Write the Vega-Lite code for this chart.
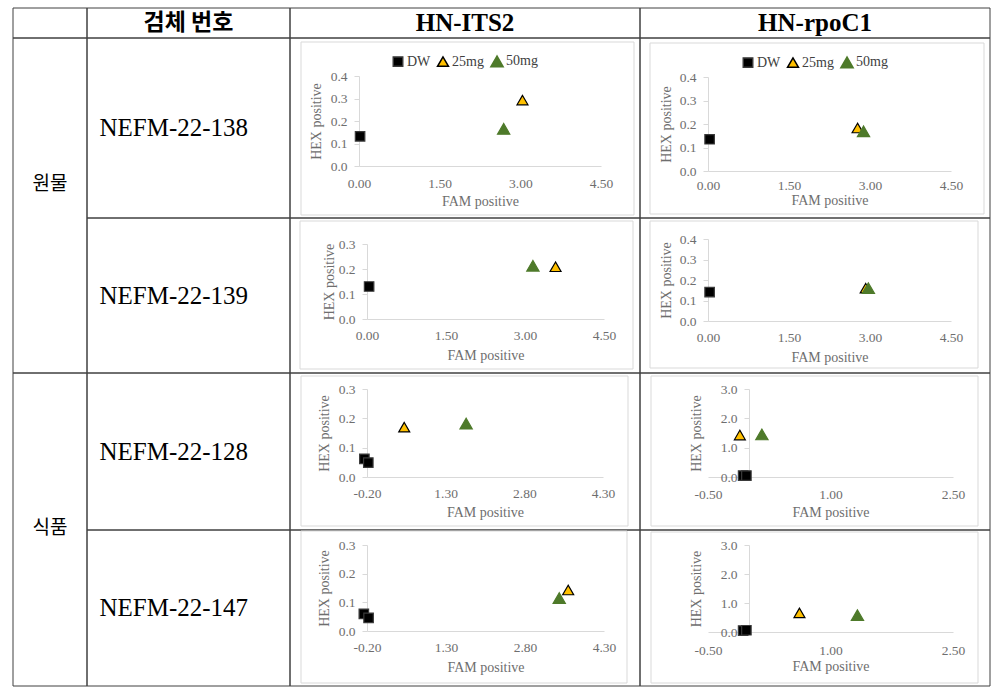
{
  "$schema": "https://vega.github.io/schema/vega-lite/v6.json",
  "padding": {"left": 12, "top": 7, "right": 0, "bottom": 0},
  "background": "white",
  "columns": 4,
  "spacing": 0,
  "align": "each",
  "bounds": "flush",
  "resolve": {"scale": {"shape": "independent", "fill": "independent", "stroke": "independent", "size": "independent"}},
  "datasets": {
    "c1": [{"series": "DW", "fam": 0.02, "hex": 0.132}, {"series": "25mg", "fam": 3.04, "hex": 0.293}, {"series": "50mg", "fam": 2.69, "hex": 0.165}],
    "c2": [{"series": "DW", "fam": 0.03, "hex": 0.135}, {"series": "25mg", "fam": 2.77, "hex": 0.183}, {"series": "50mg", "fam": 2.88, "hex": 0.169}],
    "c3": [{"series": "DW", "fam": 0.04, "hex": 0.13}, {"series": "25mg", "fam": 3.58, "hex": 0.209}, {"series": "50mg", "fam": 3.15, "hex": 0.213}],
    "c4": [{"series": "DW", "fam": 0.03, "hex": 0.141}, {"series": "25mg", "fam": 2.92, "hex": 0.16}, {"series": "50mg", "fam": 2.97, "hex": 0.16}],
    "c5": [{"series": "DW", "fam": -0.25, "hex": 0.062}, {"series": "DW", "fam": -0.175, "hex": 0.049}, {"series": "25mg", "fam": 0.51, "hex": 0.17}, {"series": "50mg", "fam": 1.69, "hex": 0.182}],
    "c6": [{"series": "DW", "fam": -0.07, "hex": 0.05}, {"series": "DW", "fam": -0.03, "hex": 0.05}, {"series": "25mg", "fam": -0.11, "hex": 1.43}, {"series": "50mg", "fam": 0.16, "hex": 1.45}],
    "c7": [{"series": "DW", "fam": -0.26, "hex": 0.06}, {"series": "DW", "fam": -0.17, "hex": 0.046}, {"series": "25mg", "fam": 3.62, "hex": 0.143}, {"series": "50mg", "fam": 3.45, "hex": 0.115}],
    "c8": [{"series": "DW", "fam": -0.07, "hex": 0.05}, {"series": "DW", "fam": -0.03, "hex": 0.06}, {"series": "25mg", "fam": 0.62, "hex": 0.66}, {"series": "50mg", "fam": 1.33, "hex": 0.58}]
  },
  "concat": [
    {"width": 74, "height": 30, "data": {"values": [{"t": ""}]}, "layer": [
      {"mark": {"type": "rect", "fill": "transparent", "stroke": "#404040", "strokeWidth": 1}, "encoding": {}},
      {"mark": {"type": "text"}, "encoding": {"text": {"field": "t"}}}]},
    {"width": 203, "height": 30, "data": {"values": [{"t": "검체 번호"}]}, "layer": [
      {"mark": {"type": "rect", "fill": "transparent", "stroke": "#404040", "strokeWidth": 1}, "encoding": {}},
      {"mark": {"type": "text", "font": "Noto Sans CJK KR", "fontSize": 23, "fontWeight": "bold", "color": "#000"}, "encoding": {"text": {"field": "t"}}}]},
    {"width": 350, "height": 30, "data": {"values": [{"t": "HN-ITS2"}]}, "layer": [
      {"mark": {"type": "rect", "fill": "transparent", "stroke": "#404040", "strokeWidth": 1}, "encoding": {}},
      {"mark": {"type": "text", "font": "Liberation Serif", "fontSize": 25, "fontWeight": "bold", "color": "#000"}, "encoding": {"text": {"field": "t"}}}]},
    {"width": 350, "height": 30, "data": {"values": [{"t": "HN-rpoC1"}]}, "layer": [
      {"mark": {"type": "rect", "fill": "transparent", "stroke": "#404040", "strokeWidth": 1}, "encoding": {}},
      {"mark": {"type": "text", "font": "Liberation Serif", "fontSize": 25, "fontWeight": "bold", "color": "#000"}, "encoding": {"text": {"field": "t"}}}]},

    {"width": 74, "height": 180, "data": {"values": [{"t": "원물"}]}, "layer": [
      {"mark": {"type": "rect", "fill": "transparent", "stroke": "#404040", "strokeWidth": 1},
       "encoding": {"y": {"datum": 0, "type": "quantitative", "scale": {"domain": [0, 1], "range": [335, 0]}, "axis": null}, "y2": {"datum": 1}}},
      {"mark": {"type": "text", "font": "Noto Sans CJK KR", "fontSize": 19, "dy": 56, "color": "#000"}, "encoding": {"text": {"field": "t"}}}]},
    {"width": 203, "height": 180, "data": {"values": [{"t": "NEFM-22-138"}]}, "layer": [
      {"mark": {"type": "rect", "fill": "transparent", "stroke": "#404040", "strokeWidth": 1}, "encoding": {}},
      {"mark": {"type": "text", "font": "Liberation Serif", "fontSize": 25, "align": "left", "dx": -89, "color": "#000"}, "encoding": {"text": {"field": "t"}}}]},
    {
      "width": 350, "height": 180,
      "resolve": {"scale": {"x": "independent", "y": "independent"}},
      "layer": [
        {"data": {"values": [{}]}, "mark": {"type": "rect", "fill": "transparent", "stroke": "#404040", "strokeWidth": 1}, "encoding": {}},
        {"data": {"values": [{}]}, "mark": {"type": "rect", "fill": "transparent", "stroke": "#d9d9d9", "strokeWidth": 1},
         "encoding": {"x": {"datum": 0, "type": "quantitative", "scale": {"domain": [0, 1], "range": [11, 344]}, "axis": null}, "x2": {"datum": 1},
                      "y": {"datum": 0, "type": "quantitative", "scale": {"domain": [0, 1], "range": [177, 4]}, "axis": null}, "y2": {"datum": 1}}},
        {"data": {"name": "c1"}, "mark": {"type": "point", "filled": true, "opacity": 1, "strokeWidth": 1.2},
         "encoding": {
           "x": {"field": "fam", "type": "quantitative", "scale": {"domain": [0, 4.5], "range": [69, 311], "nice": false, "zero": false},
                 "axis": {"offset": -52, "values": [0, 1.5, 3, 4.5], "format": ".2f", "title": "FAM positive", "labelPadding": 10, "titlePadding": 5}},
           "y": {"field": "hex", "type": "quantitative", "scale": {"domain": [0, 0.4], "range": [128, 38], "nice": false, "zero": false},
                 "axis": {"offset": -69, "values": [0, 0.1, 0.2, 0.3, 0.4], "format": ".1f", "title": "HEX positive", "titlePadding": 7}},
           "shape": {"field": "series", "type": "nominal", "scale": {"domain": ["DW", "25mg", "50mg"], "range": ["square", "triangle-up", "triangle-up"]},
                     "legend": {"orient": "none", "legendX": 101, "legendY": 16, "direction": "horizontal", "title": null}},
           "fill": {"field": "series", "type": "nominal", "scale": {"domain": ["DW", "25mg", "50mg"], "range": ["#000000", "#ffc000", "#4e7a2a"]}},
           "stroke": {"field": "series", "type": "nominal", "scale": {"domain": ["DW", "25mg", "50mg"], "range": ["#3a3a3a", "#000000", "#4e7a2a"]}},
           "size": {"field": "series", "type": "nominal", "scale": {"domain": ["DW", "25mg", "50mg"], "range": [90, 150, 100]}}
         }}
      ]
    },
    {
      "width": 350, "height": 180,
      "resolve": {"scale": {"x": "independent", "y": "independent"}},
      "layer": [
        {"data": {"values": [{}]}, "mark": {"type": "rect", "fill": "transparent", "stroke": "#404040", "strokeWidth": 1}, "encoding": {}},
        {"data": {"values": [{}]}, "mark": {"type": "rect", "fill": "transparent", "stroke": "#d9d9d9", "strokeWidth": 1},
         "encoding": {"x": {"datum": 0, "type": "quantitative", "scale": {"domain": [0, 1], "range": [10, 344]}, "axis": null}, "x2": {"datum": 1},
                      "y": {"datum": 0, "type": "quantitative", "scale": {"domain": [0, 1], "range": [176, 5]}, "axis": null}, "y2": {"datum": 1}}},
        {"data": {"name": "c2"}, "mark": {"type": "point", "filled": true, "opacity": 1, "strokeWidth": 1.2},
         "encoding": {
           "x": {"field": "fam", "type": "quantitative", "scale": {"domain": [0, 4.5], "range": [68, 311], "nice": false, "zero": false},
                 "axis": {"offset": -47, "values": [0, 1.5, 3, 4.5], "format": ".2f", "title": "FAM positive", "labelPadding": 7, "titlePadding": 2}},
           "y": {"field": "hex", "type": "quantitative", "scale": {"domain": [0, 0.4], "range": [133, 39], "nice": false, "zero": false},
                 "axis": {"offset": -68, "values": [0, 0.1, 0.2, 0.3, 0.4], "format": ".1f", "title": "HEX positive", "titlePadding": 6}},
           "shape": {"field": "series", "type": "nominal", "scale": {"domain": ["DW", "25mg", "50mg"], "range": ["square", "triangle-up", "triangle-up"]},
                     "legend": {"orient": "none", "legendX": 101, "legendY": 17, "direction": "horizontal", "title": null}},
           "fill": {"field": "series", "type": "nominal", "scale": {"domain": ["DW", "25mg", "50mg"], "range": ["#000000", "#ffc000", "#4e7a2a"]}},
           "stroke": {"field": "series", "type": "nominal", "scale": {"domain": ["DW", "25mg", "50mg"], "range": ["#3a3a3a", "#000000", "#4e7a2a"]}},
           "size": {"field": "series", "type": "nominal", "scale": {"domain": ["DW", "25mg", "50mg"], "range": [90, 150, 100]}}
         }}
      ]
    },

    {"width": 74, "height": 155, "data": {"values": [{"t": ""}]}, "mark": {"type": "text"}, "encoding": {"text": {"field": "t"}}},
    {"width": 203, "height": 155, "data": {"values": [{"t": "NEFM-22-139"}]}, "layer": [
      {"mark": {"type": "rect", "fill": "transparent", "stroke": "#404040", "strokeWidth": 1}, "encoding": {}},
      {"mark": {"type": "text", "font": "Liberation Serif", "fontSize": 25, "align": "left", "dx": -89, "color": "#000"}, "encoding": {"text": {"field": "t"}}}]},
    {
      "width": 350, "height": 155,
      "resolve": {"scale": {"x": "independent", "y": "independent"}},
      "layer": [
        {"data": {"values": [{}]}, "mark": {"type": "rect", "fill": "transparent", "stroke": "#404040", "strokeWidth": 1}, "encoding": {}},
        {"data": {"values": [{}]}, "mark": {"type": "rect", "fill": "transparent", "stroke": "#d9d9d9", "strokeWidth": 1},
         "encoding": {"x": {"datum": 0, "type": "quantitative", "scale": {"domain": [0, 1], "range": [10, 343]}, "axis": null}, "x2": {"datum": 1},
                      "y": {"datum": 0, "type": "quantitative", "scale": {"domain": [0, 1], "range": [151, 3]}, "axis": null}, "y2": {"datum": 1}}},
        {"data": {"name": "c3"}, "mark": {"type": "point", "filled": true, "opacity": 1, "strokeWidth": 1.2},
         "encoding": {
           "x": {"field": "fam", "type": "quantitative", "scale": {"domain": [0, 4.5], "range": [77, 314], "nice": false, "zero": false},
                 "axis": {"offset": -54, "values": [0, 1.5, 3, 4.5], "format": ".2f", "title": "FAM positive", "labelPadding": 9, "titlePadding": 7}},
           "y": {"field": "hex", "type": "quantitative", "scale": {"domain": [0, 0.3], "range": [101, 26], "nice": false, "zero": false},
                 "axis": {"offset": -77, "values": [0, 0.1, 0.2, 0.3], "format": ".1f", "title": "HEX positive", "titlePadding": 2}},
           "shape": {"field": "series", "type": "nominal", "scale": {"domain": ["DW", "25mg", "50mg"], "range": ["square", "triangle-up", "triangle-up"]}, "legend": null},
           "fill": {"field": "series", "type": "nominal", "scale": {"domain": ["DW", "25mg", "50mg"], "range": ["#000000", "#ffc000", "#4e7a2a"]}, "legend": null},
           "stroke": {"field": "series", "type": "nominal", "scale": {"domain": ["DW", "25mg", "50mg"], "range": ["#3a3a3a", "#000000", "#4e7a2a"]}, "legend": null},
           "size": {"field": "series", "type": "nominal", "scale": {"domain": ["DW", "25mg", "50mg"], "range": [90, 150, 100]}, "legend": null}
         }}
      ]
    },
    {
      "width": 350, "height": 155,
      "resolve": {"scale": {"x": "independent", "y": "independent"}},
      "layer": [
        {"data": {"values": [{}]}, "mark": {"type": "rect", "fill": "transparent", "stroke": "#404040", "strokeWidth": 1}, "encoding": {}},
        {"data": {"values": [{}]}, "mark": {"type": "rect", "fill": "transparent", "stroke": "#d9d9d9", "strokeWidth": 1},
         "encoding": {"x": {"datum": 0, "type": "quantitative", "scale": {"domain": [0, 1], "range": [10, 338]}, "axis": null}, "x2": {"datum": 1},
                      "y": {"datum": 0, "type": "quantitative", "scale": {"domain": [0, 1], "range": [150, 3]}, "axis": null}, "y2": {"datum": 1}}},
        {"data": {"name": "c4"}, "mark": {"type": "point", "filled": true, "opacity": 1, "strokeWidth": 1.2},
         "encoding": {
           "x": {"field": "fam", "type": "quantitative", "scale": {"domain": [0, 4.5], "range": [68, 311], "nice": false, "zero": false},
                 "axis": {"offset": -52, "values": [0, 1.5, 3, 4.5], "format": ".2f", "title": "FAM positive", "labelPadding": 9, "titlePadding": 7}},
           "y": {"field": "hex", "type": "quantitative", "scale": {"domain": [0, 0.4], "range": [103, 21], "nice": false, "zero": false},
                 "axis": {"offset": -68, "values": [0, 0.1, 0.2, 0.3, 0.4], "format": ".1f", "title": "HEX positive", "titlePadding": 6}},
           "shape": {"field": "series", "type": "nominal", "scale": {"domain": ["DW", "25mg", "50mg"], "range": ["square", "triangle-up", "triangle-up"]}, "legend": null},
           "fill": {"field": "series", "type": "nominal", "scale": {"domain": ["DW", "25mg", "50mg"], "range": ["#000000", "#ffc000", "#4e7a2a"]}, "legend": null},
           "stroke": {"field": "series", "type": "nominal", "scale": {"domain": ["DW", "25mg", "50mg"], "range": ["#3a3a3a", "#000000", "#4e7a2a"]}, "legend": null},
           "size": {"field": "series", "type": "nominal", "scale": {"domain": ["DW", "25mg", "50mg"], "range": [90, 150, 100]}, "legend": null}
         }}
      ]
    },

    {"width": 74, "height": 157, "data": {"values": [{"t": "식품"}]}, "layer": [
      {"mark": {"type": "rect", "fill": "transparent", "stroke": "#404040", "strokeWidth": 1},
       "encoding": {"y": {"datum": 0, "type": "quantitative", "scale": {"domain": [0, 1], "range": [313, 0]}, "axis": null}, "y2": {"datum": 1}}},
      {"mark": {"type": "text", "font": "Noto Sans CJK KR", "fontSize": 19, "dy": 76, "color": "#000"}, "encoding": {"text": {"field": "t"}}}]},
    {"width": 203, "height": 157, "data": {"values": [{"t": "NEFM-22-128"}]}, "layer": [
      {"mark": {"type": "rect", "fill": "transparent", "stroke": "#404040", "strokeWidth": 1}, "encoding": {}},
      {"mark": {"type": "text", "font": "Liberation Serif", "fontSize": 25, "align": "left", "dx": -89, "color": "#000"}, "encoding": {"text": {"field": "t"}}}]},
    {
      "width": 350, "height": 157,
      "resolve": {"scale": {"x": "independent", "y": "independent"}},
      "layer": [
        {"data": {"values": [{}]}, "mark": {"type": "rect", "fill": "transparent", "stroke": "#404040", "strokeWidth": 1}, "encoding": {}},
        {"data": {"values": [{}]}, "mark": {"type": "rect", "fill": "transparent", "stroke": "#d9d9d9", "strokeWidth": 1},
         "encoding": {"x": {"datum": 0, "type": "quantitative", "scale": {"domain": [0, 1], "range": [11, 338]}, "axis": null}, "x2": {"datum": 1},
                      "y": {"datum": 0, "type": "quantitative", "scale": {"domain": [0, 1], "range": [153, 3]}, "axis": null}, "y2": {"datum": 1}}},
        {"data": {"name": "c5"}, "mark": {"type": "point", "filled": true, "opacity": 1, "strokeWidth": 1.2},
         "encoding": {
           "x": {"field": "fam", "type": "quantitative", "scale": {"domain": [-0.2, 4.3], "range": [77, 313], "nice": false, "zero": false},
                 "axis": {"offset": -53, "values": [-0.2, 1.3, 2.8, 4.3], "format": ".2f", "title": "FAM positive", "labelPadding": 9, "titlePadding": 6}},
           "y": {"field": "hex", "type": "quantitative", "scale": {"domain": [0, 0.3], "range": [104, 16], "nice": false, "zero": false},
                 "axis": {"offset": -77, "values": [0, 0.1, 0.2, 0.3], "format": ".1f", "title": "HEX positive", "titlePadding": 7}},
           "shape": {"field": "series", "type": "nominal", "scale": {"domain": ["DW", "25mg", "50mg"], "range": ["square", "triangle-up", "triangle-up"]}, "legend": null},
           "fill": {"field": "series", "type": "nominal", "scale": {"domain": ["DW", "25mg", "50mg"], "range": ["#000000", "#ffc000", "#4e7a2a"]}, "legend": null},
           "stroke": {"field": "series", "type": "nominal", "scale": {"domain": ["DW", "25mg", "50mg"], "range": ["#3a3a3a", "#000000", "#4e7a2a"]}, "legend": null},
           "size": {"field": "series", "type": "nominal", "scale": {"domain": ["DW", "25mg", "50mg"], "range": [90, 150, 100]}, "legend": null}
         }}
      ]
    },
    {
      "width": 350, "height": 157,
      "resolve": {"scale": {"x": "independent", "y": "independent"}},
      "layer": [
        {"data": {"values": [{}]}, "mark": {"type": "rect", "fill": "transparent", "stroke": "#404040", "strokeWidth": 1}, "encoding": {}},
        {"data": {"values": [{}]}, "mark": {"type": "rect", "fill": "transparent", "stroke": "#d9d9d9", "strokeWidth": 1},
         "encoding": {"x": {"datum": 0, "type": "quantitative", "scale": {"domain": [0, 1], "range": [11, 338]}, "axis": null}, "x2": {"datum": 1},
                      "y": {"datum": 0, "type": "quantitative", "scale": {"domain": [0, 1], "range": [153, 3]}, "axis": null}, "y2": {"datum": 1}}},
        {"data": {"name": "c6"}, "mark": {"type": "point", "filled": true, "opacity": 1, "strokeWidth": 1.2},
         "encoding": {
           "x": {"field": "fam", "type": "quantitative", "scale": {"domain": [-0.5, 2.5], "range": [68, 313], "nice": false, "zero": false},
                 "axis": {"offset": -53, "values": [-0.5, 1.0, 2.5], "format": ".2f", "title": "FAM positive", "labelPadding": 10, "titlePadding": 5}},
           "y": {"field": "hex", "type": "quantitative", "scale": {"domain": [0, 3], "range": [104, 16], "nice": false, "zero": false},
                 "axis": {"offset": -109, "values": [0, 1, 2, 3], "format": ".1f", "title": "HEX positive", "titlePadding": 17}},
           "shape": {"field": "series", "type": "nominal", "scale": {"domain": ["DW", "25mg", "50mg"], "range": ["square", "triangle-up", "triangle-up"]}, "legend": null},
           "fill": {"field": "series", "type": "nominal", "scale": {"domain": ["DW", "25mg", "50mg"], "range": ["#000000", "#ffc000", "#4e7a2a"]}, "legend": null},
           "stroke": {"field": "series", "type": "nominal", "scale": {"domain": ["DW", "25mg", "50mg"], "range": ["#3a3a3a", "#000000", "#4e7a2a"]}, "legend": null},
           "size": {"field": "series", "type": "nominal", "scale": {"domain": ["DW", "25mg", "50mg"], "range": [90, 150, 100]}, "legend": null}
         }}
      ]
    },

    {"width": 74, "height": 156, "data": {"values": [{"t": ""}]}, "mark": {"type": "text"}, "encoding": {"text": {"field": "t"}}},
    {"width": 203, "height": 156, "data": {"values": [{"t": "NEFM-22-147"}]}, "layer": [
      {"mark": {"type": "rect", "fill": "transparent", "stroke": "#404040", "strokeWidth": 1}, "encoding": {}},
      {"mark": {"type": "text", "font": "Liberation Serif", "fontSize": 25, "align": "left", "dx": -89, "color": "#000"}, "encoding": {"text": {"field": "t"}}}]},
    {
      "width": 350, "height": 156,
      "resolve": {"scale": {"x": "independent", "y": "independent"}},
      "layer": [
        {"data": {"values": [{}]}, "mark": {"type": "rect", "fill": "transparent", "stroke": "#404040", "strokeWidth": 1}, "encoding": {}},
        {"data": {"values": [{}]}, "mark": {"type": "rect", "fill": "transparent", "stroke": "#d9d9d9", "strokeWidth": 1},
         "encoding": {"x": {"datum": 0, "type": "quantitative", "scale": {"domain": [0, 1], "range": [11, 337]}, "axis": null}, "x2": {"datum": 1},
                      "y": {"datum": 0, "type": "quantitative", "scale": {"domain": [0, 1], "range": [153, 1]}, "axis": null}, "y2": {"datum": 1}}},
        {"data": {"name": "c7"}, "mark": {"type": "point", "filled": true, "opacity": 1, "strokeWidth": 1.2},
         "encoding": {
           "x": {"field": "fam", "type": "quantitative", "scale": {"domain": [-0.2, 4.3], "range": [77, 314], "nice": false, "zero": false},
                 "axis": {"offset": -55, "values": [-0.2, 1.3, 2.8, 4.3], "format": ".2f", "title": "FAM positive", "labelPadding": 9, "titlePadding": 7}},
           "y": {"field": "hex", "type": "quantitative", "scale": {"domain": [0, 0.3], "range": [101, 15], "nice": false, "zero": false},
                 "axis": {"offset": -77, "values": [0, 0.1, 0.2, 0.3], "format": ".1f", "title": "HEX positive", "titlePadding": 7}},
           "shape": {"field": "series", "type": "nominal", "scale": {"domain": ["DW", "25mg", "50mg"], "range": ["square", "triangle-up", "triangle-up"]}, "legend": null},
           "fill": {"field": "series", "type": "nominal", "scale": {"domain": ["DW", "25mg", "50mg"], "range": ["#000000", "#ffc000", "#4e7a2a"]}, "legend": null},
           "stroke": {"field": "series", "type": "nominal", "scale": {"domain": ["DW", "25mg", "50mg"], "range": ["#3a3a3a", "#000000", "#4e7a2a"]}, "legend": null},
           "size": {"field": "series", "type": "nominal", "scale": {"domain": ["DW", "25mg", "50mg"], "range": [90, 150, 100]}, "legend": null}
         }}
      ]
    },
    {
      "width": 350, "height": 156,
      "resolve": {"scale": {"x": "independent", "y": "independent"}},
      "layer": [
        {"data": {"values": [{}]}, "mark": {"type": "rect", "fill": "transparent", "stroke": "#404040", "strokeWidth": 1}, "encoding": {}},
        {"data": {"values": [{}]}, "mark": {"type": "rect", "fill": "transparent", "stroke": "#d9d9d9", "strokeWidth": 1},
         "encoding": {"x": {"datum": 0, "type": "quantitative", "scale": {"domain": [0, 1], "range": [11, 338]}, "axis": null}, "x2": {"datum": 1},
                      "y": {"datum": 0, "type": "quantitative", "scale": {"domain": [0, 1], "range": [153, 2]}, "axis": null}, "y2": {"datum": 1}}},
        {"data": {"name": "c8"}, "mark": {"type": "point", "filled": true, "opacity": 1, "strokeWidth": 1.2},
         "encoding": {
           "x": {"field": "fam", "type": "quantitative", "scale": {"domain": [-0.5, 2.5], "range": [68, 313], "nice": false, "zero": false},
                 "axis": {"offset": -54, "values": [-0.5, 1.0, 2.5], "format": ".2f", "title": "FAM positive", "labelPadding": 11, "titlePadding": 3}},
           "y": {"field": "hex", "type": "quantitative", "scale": {"domain": [0, 3], "range": [102, 15], "nice": false, "zero": false},
                 "axis": {"offset": -109, "values": [0, 1, 2, 3], "format": ".1f", "title": "HEX positive", "titlePadding": 17}},
           "shape": {"field": "series", "type": "nominal", "scale": {"domain": ["DW", "25mg", "50mg"], "range": ["square", "triangle-up", "triangle-up"]}, "legend": null},
           "fill": {"field": "series", "type": "nominal", "scale": {"domain": ["DW", "25mg", "50mg"], "range": ["#000000", "#ffc000", "#4e7a2a"]}, "legend": null},
           "stroke": {"field": "series", "type": "nominal", "scale": {"domain": ["DW", "25mg", "50mg"], "range": ["#3a3a3a", "#000000", "#4e7a2a"]}, "legend": null},
           "size": {"field": "series", "type": "nominal", "scale": {"domain": ["DW", "25mg", "50mg"], "range": [90, 150, 100]}, "legend": null}
         }}
      ]
    }
  ],
  "config": {
    "locale": {"number": {"decimal": ".", "thousands": ",", "grouping": [3], "currency": ["$", ""], "minus": "-"}},
    "view": {"stroke": null},
    "concat": {"spacing": 0},
    "axis": {"grid": false, "labelFont": "Liberation Serif", "titleFont": "Liberation Serif", "labelFontSize": 13.5, "titleFontSize": 14, "titleFontWeight": "normal", "labelColor": "#6e6e6e", "titleColor": "#6e6e6e", "domainColor": "#d9d9d9", "tickColor": "#d9d9d9", "labelFlush": false, "labelOverlap": false},
    "axisX": {"ticks": false},
    "axisY": {"ticks": true, "tickSize": 5, "labelPadding": 7},
    "legend": {"labelFont": "Liberation Serif", "labelFontSize": 14, "labelColor": "#404040", "columnPadding": 3, "labelOffset": 2, "padding": 0}
  }
}
